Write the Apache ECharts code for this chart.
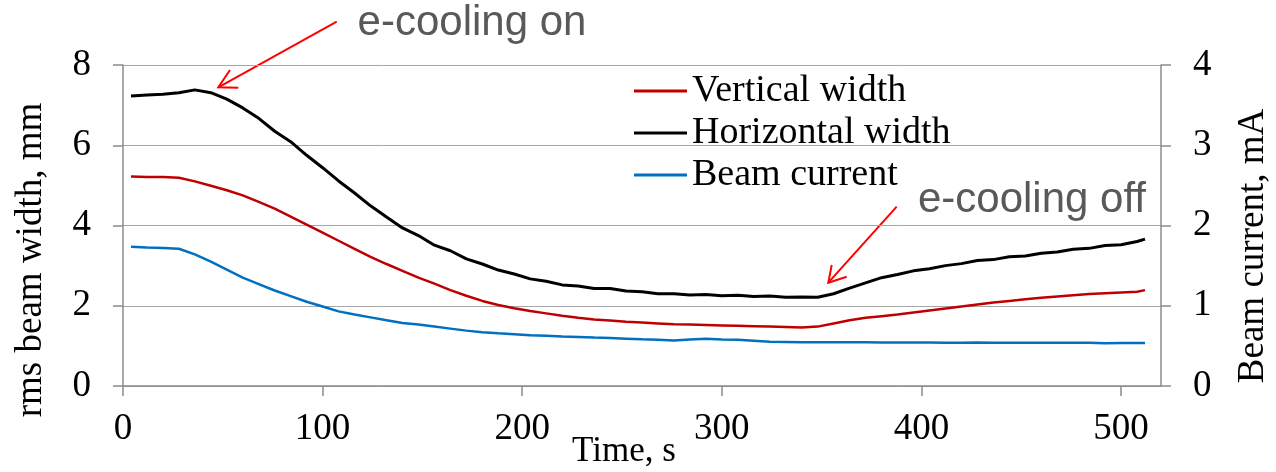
<!DOCTYPE html>
<html>
<head>
<meta charset="utf-8">
<script src="https://cdn.jsdelivr.net/npm/echarts@6/dist/echarts.min.js"></script>
<style>
html,body{margin:0;padding:0;background:#fff;}
#chart{width:1276px;height:472px;}
</style>
</head>
<body>
<div id="chart"></div>
<script>
// Time, s
const times = [4,12,20,28,36,44,52,60,68,76,84,92,100,108,116,124,132,140,148,156,164,172,180,188,196,204,212,220,228,236,244,252,260,268,276,284,292,300,308,316,324,332,340,348,356,364,372,380,388,396,404,412,420,428,436,444,452,460,468,476,484,492,500,508,512];
// Horizontal width, mm
const horizontalWidth = [7.23,7.25,7.27,7.31,7.38,7.31,7.15,6.93,6.67,6.35,6.09,5.75,5.44,5.11,4.81,4.49,4.21,3.94,3.75,3.51,3.37,3.17,3.04,2.89,2.79,2.67,2.61,2.52,2.49,2.43,2.43,2.37,2.35,2.30,2.30,2.27,2.28,2.25,2.26,2.23,2.24,2.21,2.22,2.21,2.30,2.44,2.57,2.70,2.78,2.87,2.92,3.00,3.05,3.13,3.15,3.22,3.24,3.31,3.34,3.41,3.43,3.50,3.52,3.60,3.66];
// Vertical width, mm
const verticalWidth = [5.22,5.21,5.21,5.19,5.10,4.99,4.88,4.75,4.59,4.42,4.22,4.02,3.82,3.62,3.42,3.22,3.04,2.87,2.70,2.55,2.39,2.25,2.12,2.02,1.94,1.87,1.81,1.75,1.70,1.66,1.63,1.60,1.58,1.56,1.54,1.53,1.52,1.51,1.50,1.49,1.48,1.47,1.46,1.48,1.56,1.64,1.70,1.74,1.78,1.83,1.88,1.93,1.98,2.03,2.08,2.12,2.16,2.20,2.23,2.26,2.29,2.31,2.33,2.35,2.39];
// Beam current, mA
const beamCurrent = [1.735,1.725,1.72,1.71,1.64,1.55,1.45,1.35,1.27,1.19,1.12,1.05,0.99,0.93,0.89,0.855,0.82,0.785,0.765,0.74,0.715,0.69,0.67,0.656,0.645,0.633,0.625,0.616,0.61,0.603,0.597,0.59,0.582,0.575,0.568,0.58,0.588,0.578,0.575,0.565,0.55,0.548,0.546,0.545,0.544,0.544,0.544,0.543,0.542,0.541,0.541,0.54,0.54,0.541,0.54,0.54,0.539,0.54,0.539,0.54,0.538,0.532,0.537,0.536,0.535];
const xTicks = [0,100,200,300,400,500];
const seriesNames = ['Vertical width','Horizontal width','Beam current'];

const serif = 'Liberation Serif';
const sans = 'Liberation Sans';
const axisGray = '#8c8c8c';
const gridGray = '#a6a6a6';

function pairs(vals){ return times.map((t,i)=>[t, vals[i]]); }

const chart = echarts.init(document.getElementById('chart'), null, {renderer:'canvas'});
chart.setOption({
  animation:false,
  backgroundColor:'#fff',
  grid:{left:123, right:115, top:65, bottom:86, containLabel:false},
  legend:{
    orient:'vertical', left:634, top:72, padding:0, itemGap:4,
    icon:'rect', itemWidth:53, itemHeight:3,
    textStyle:{fontFamily:serif, fontSize:38, color:'#000'},
    data:seriesNames
  },
  xAxis:{
    type:'value', min:0, max:520, interval:100,
    axisLine:{show:true, lineStyle:{color:axisGray, width:1.5}},
    axisTick:{show:true, length:10, lineStyle:{color:axisGray, width:1.5}, customValues:xTicks},
    axisLabel:{fontFamily:serif, fontSize:37, color:'#000', margin:25, customValues:xTicks},
    splitLine:{show:false}
  },
  yAxis:[{
    type:'value', min:0, max:8, interval:2, position:'left',
    axisLine:{show:true, lineStyle:{color:axisGray, width:1.5}},
    axisTick:{show:true, length:10, lineStyle:{color:axisGray, width:1.5}},
    axisLabel:{fontFamily:serif, fontSize:37, color:'#000', margin:32},
    splitLine:{show:true, lineStyle:{color:gridGray, width:1}}
  },{
    type:'value', min:0, max:4, interval:1, position:'right',
    axisLine:{show:true, lineStyle:{color:axisGray, width:1.5}},
    axisTick:{show:true, length:10, lineStyle:{color:axisGray, width:1.5}},
    axisLabel:{fontFamily:serif, fontSize:37, color:'#000', margin:32},
    splitLine:{show:false}
  }],
  series:[
    {name:seriesNames[0], type:'line', yAxisIndex:0, data:pairs(verticalWidth), showSymbol:false, symbol:'none', color:'#C00000', lineStyle:{color:'#C00000', width:2.5}},
    {name:seriesNames[1], type:'line', yAxisIndex:0, data:pairs(horizontalWidth), showSymbol:false, symbol:'none', color:'#000000', lineStyle:{color:'#000000', width:3}},
    {name:seriesNames[2], type:'line', yAxisIndex:1, data:pairs(beamCurrent), showSymbol:false, symbol:'none', color:'#0070C0', lineStyle:{color:'#0070C0', width:2.5}}
  ],
  graphic:[
    {type:'text', x:624, y:452, style:{text:'Time, s', fontFamily:serif, fontSize:35, fill:'#000', align:'center', verticalAlign:'middle'}},
    {type:'text', x:31, y:260, rotation:Math.PI/2, style:{text:'rms beam width, mm', fontFamily:serif, fontSize:37, fill:'#000', align:'center', verticalAlign:'middle'}},
    {type:'text', x:1253, y:246, rotation:Math.PI/2, style:{text:'Beam current, mA', fontFamily:serif, fontSize:37, fill:'#000', align:'center', verticalAlign:'middle'}},
    {type:'text', x:472, y:23, style:{text:'e-cooling on', fontFamily:sans, fontSize:42, fill:'#595959', align:'center', verticalAlign:'middle'}},
    {type:'text', x:1032, y:200, style:{text:'e-cooling off', fontFamily:sans, fontSize:42, fill:'#595959', align:'center', verticalAlign:'middle'}},
    {type:'line', shape:{x1:336.7,y1:21.7,x2:218.3,y2:87.3}, style:{stroke:'#ff0000', lineWidth:2}},
    {type:'polyline', shape:{points:[[230,70],[218.3,87.3],[238.3,87.7]]}, style:{stroke:'#ff0000', lineWidth:2, fill:null}},
    {type:'line', shape:{x1:896.7,y1:206.7,x2:828.3,y2:282.7}, style:{stroke:'#ff0000', lineWidth:2}},
    {type:'polyline', shape:{points:[[831.7,265],[828.3,282.7],[846.7,276.7]]}, style:{stroke:'#ff0000', lineWidth:2, fill:null}}
  ]
});
</script>
</body>
</html>
